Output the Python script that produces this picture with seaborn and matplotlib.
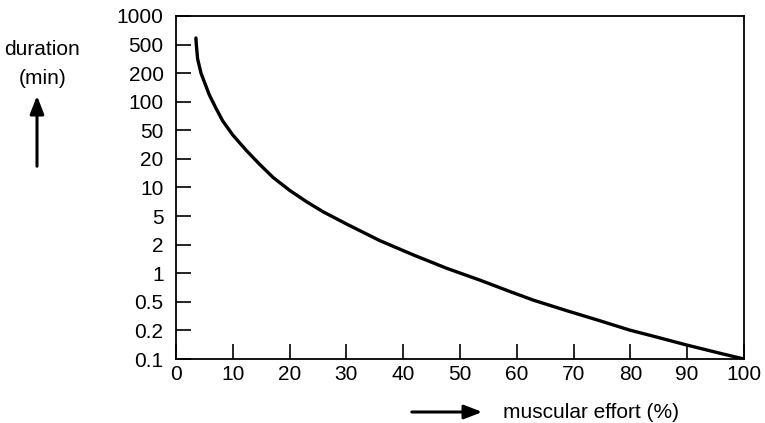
import matplotlib
matplotlib.use("Agg")
import matplotlib.pyplot as plt
import pandas as pd
import seaborn as sns

# muscular effort (%) vs. duration, duration given as position on the
# equally spaced duration scale (0 = 0.1 min ... 12 = 1000 min)
effort = [3.5, 3.57, 3.8, 4.4, 5.86, 7.04, 8.22, 9.98, 12.32, 14.67, 17.1,
          20.07, 23.0, 25.9, 30.05, 35.9, 41.8, 47.7, 53.5, 58.8, 62.9, 68.8,
          74.6, 79.9, 84.0, 89.9, 95.8, 100.0]
duration_level = [11.23, 11.0, 10.5, 10.0, 9.24, 8.77, 8.33, 7.84, 7.31, 6.82,
                  6.35, 5.89, 5.50, 5.15, 4.72, 4.14, 3.64, 3.17, 2.76, 2.36,
                  2.06, 1.69, 1.34, 1.01, 0.80, 0.49, 0.20, 0.0]

duration_ticks = ["0.1", "0.2", "0.5", "1", "2", "5", "10", "20", "50",
                  "100", "200", "500", "1000"]
effort_ticks = [0, 10, 20, 30, 40, 50, 60, 70, 80, 90, 100]

df = pd.DataFrame({"effort": effort, "level": duration_level})

sns.set_theme(style="ticks")
plt.rcParams["font.family"] = ["Liberation Sans", "DejaVu Sans"]
plt.rcParams["text.color"] = "black"

fig = plt.figure(figsize=(7.65, 4.23), dpi=100)
ax = fig.add_axes([0.2301, 0.1513, 0.9725 - 0.2301, 0.9622 - 0.1513])

sns.lineplot(data=df, x="effort", y="level", color="black", linewidth=2.4,
             estimator=None, sort=False, ax=ax, solid_joinstyle="round")

ax.set_xlim(0, 100)
ax.set_ylim(0, len(duration_ticks) - 1)
ax.set_xticks(effort_ticks)
ax.set_yticks(range(len(duration_ticks)))
ax.set_yticklabels(duration_ticks)
ax.set_xlabel("")
ax.set_ylabel("")

for side in ax.spines.values():
    side.set_color("black")
    side.set_linewidth(1.3)

ax.tick_params(axis="both", direction="in", length=10.5, width=1.2,
               color="black", labelsize=15, labelcolor="black")
ax.tick_params(axis="y", pad=9)
ax.tick_params(axis="x", pad=4)

# axis captions with arrows, placed in figure coordinates
fig.text(42 / 765, 1 - 49 / 423, "duration", ha="center", va="center",
         fontsize=15)
fig.text(43 / 765, 1 - 78 / 423, "(min)", ha="center", va="center",
         fontsize=15)
ax.annotate("", xy=(37 / 765, 1 - 93 / 423), xytext=(37 / 765, 1 - 169 / 423),
            xycoords="figure fraction", textcoords="figure fraction",
            arrowprops=dict(arrowstyle="-|>,head_length=0.9,head_width=0.35",
                            color="black", lw=2.2))

fig.text(503 / 765, 1 - 412 / 423, "muscular effort (%)", ha="left",
         va="center", fontsize=15)
ax.annotate("", xy=(485 / 765, 1 - 412 / 423), xytext=(409 / 765, 1 - 412 / 423),
            xycoords="figure fraction", textcoords="figure fraction",
            arrowprops=dict(arrowstyle="-|>,head_length=0.9,head_width=0.35",
                            color="black", lw=2.2))

plt.savefig("out.png", dpi=100)
